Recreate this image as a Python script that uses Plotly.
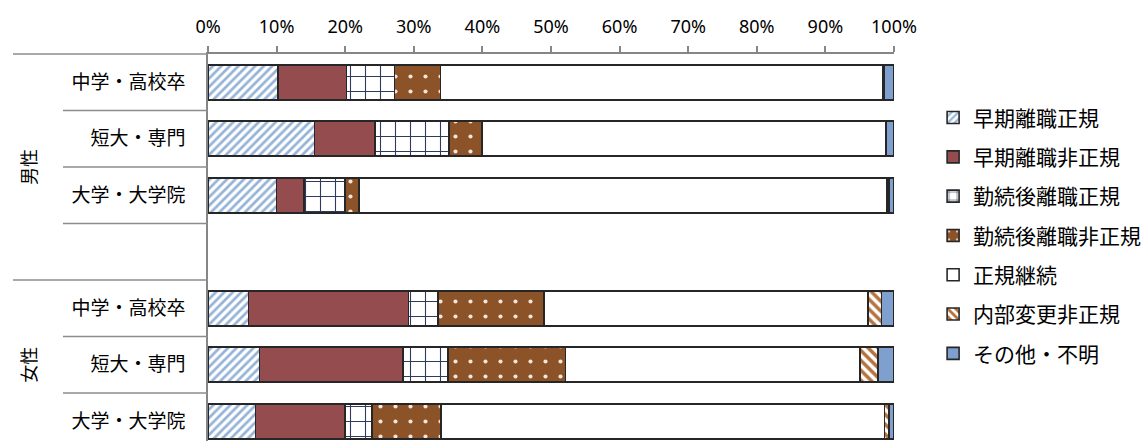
import plotly.graph_objects as go

# Category hierarchy
groups = ["男性", "女性"]
levels = ["中学・高校卒", "短大・専門", "大学・大学院"]

series_names = [
    "早期離職正規", "早期離職非正規", "勤続後離職正規", "勤続後離職非正規",
    "正規継続", "内部変更非正規", "その他・不明",
]

# Shares (%) per row, ordered 男性 (3 levels) then 女性 (3 levels)
early_regular = [10.2, 15.5, 10.0, 5.9, 7.5, 6.9]
early_nonregular = [10.0, 8.8, 4.0, 23.3, 20.9, 13.1]
later_regular = [7.0, 10.8, 6.0, 4.3, 6.6, 3.9]
later_nonregular = [6.7, 4.8, 2.0, 15.5, 17.1, 10.1]
continuing = [64.4, 58.9, 77.0, 47.2, 42.9, 64.6]
internal_nonregular = [0.2, 0.0, 0.3, 2.0, 2.7, 0.7]
other_unknown = [1.5, 1.2, 0.7, 1.8, 2.3, 0.7]

series_values = [
    early_regular, early_nonregular, later_regular, later_nonregular,
    continuing, internal_nonregular, other_unknown,
]

# Percentage ticks on the value axis
x_ticks = list(range(0, 101, 10))
x_tick_text = [f"{v}%" for v in x_ticks]

# Slots per group on the category axis (男性 carries one empty spacer slot)
group_slots = [4, 3]

# Fill styles per series
styles = [
    dict(bg="#FFFFFF", fg="#95B3D7", shape="/", size=6, solidity=0.45),
    dict(bg="#954C4E", fg="#954C4E", shape="", size=8, solidity=0.3),
    dict(bg="#FFFFFF", fg="#2E3A5E", shape="+", size=15, solidity=0.14),
    dict(bg="#8C5228", fg="#F4E6DA", shape=".", size=15, solidity=0.06),
    dict(bg="#FFFFFF", fg="#FFFFFF", shape="", size=8, solidity=0.3),
    dict(bg="#FFFFFF", fg="#B4723C", shape="\\", size=7, solidity=0.5),
    dict(bg="#7F9FCF", fg="#7F9FCF", shape="", size=8, solidity=0.3),
]

# y positions for each data row and group boundaries
row_pos, row_text, group_start = [], [], []
start = 0
for g, n in zip(groups, group_slots):
    group_start.append(start)
    for i, lv in enumerate(levels):
        row_pos.append(start + i)
        row_text.append(lv)
    start += n
total_slots = start

y_top, y_bottom = -0.5, 6.35  # visible span of the category axis

fig = go.Figure()
for name, vals, st in zip(series_names, series_values, styles):
    fig.add_trace(go.Bar(
        name=name, x=vals, y=row_pos, orientation="h",
        legendgroup=name,
        marker=dict(
            color=st["bg"],
            line=dict(color="#262626", width=1.6),
            pattern=dict(shape=st["shape"], fgcolor=st["fg"], bgcolor=st["bg"],
                         size=st["size"], solidity=st["solidity"], fillmode="replace"),
        ),
        hoverinfo="skip",
    ))


def ypaper(v):
    return (y_bottom - v) / (y_bottom - y_top)


# Category table rules on the left of the axis
shapes = []
for k in range(total_slots):
    b = k - 0.5
    if b > y_bottom:
        continue
    x0 = -0.2843 if k in group_start else -0.2114
    shapes.append(dict(type="line", xref="paper", yref="paper",
                       x0=x0, x1=0, y0=ypaper(b), y1=ypaper(b),
                       line=dict(color="#8C8C8C", width=1.5)))

# Group labels, rotated
annotations = []
for g, s, n in zip(groups, group_start, group_slots):
    centre = s - 0.5 + n / 2
    annotations.append(dict(text=g, xref="paper", yref="y", x=-0.2624, y=centre,
                            xanchor="center", yanchor="middle",
                            textangle=-90, showarrow=False,
                            font=dict(size=18, color="#000000")))

fig.update_layout(
    width=1148, height=441,
    margin=dict(l=208, r=254, t=54, b=0),
    paper_bgcolor="#FFFFFF", plot_bgcolor="#FFFFFF",
    barmode="stack", bargap=0.38,
    font=dict(family="Noto Sans CJK JP, Noto Sans, sans-serif", color="#000000"),
    shapes=shapes, annotations=annotations,
    legend=dict(x=1.057, xanchor="left", y=0.53, yanchor="middle",
                traceorder="grouped", tracegroupgap=9,
                font=dict(size=21, color="#000000"), bgcolor="rgba(0,0,0,0)"),
    xaxis=dict(side="top", range=[0, 100], tickvals=x_ticks, ticktext=x_tick_text,
               ticks="outside", ticklen=6, tickwidth=1.5,
               tickcolor="#868686", showline=True, linecolor="#868686", linewidth=1.5,
               showgrid=False, zeroline=False, ticklabelstandoff=6,
               tickfont=dict(family="Noto Sans, sans-serif", size=18, color="#000000")),
    yaxis=dict(range=[y_bottom, y_top], tickvals=row_pos, ticktext=row_text,
               ticks="", showline=True, linecolor="#868686", linewidth=1.5,
               showgrid=False, zeroline=False, ticklabelstandoff=17,
               tickfont=dict(size=19, color="#000000")),
)

fig.write_html("out.html")
